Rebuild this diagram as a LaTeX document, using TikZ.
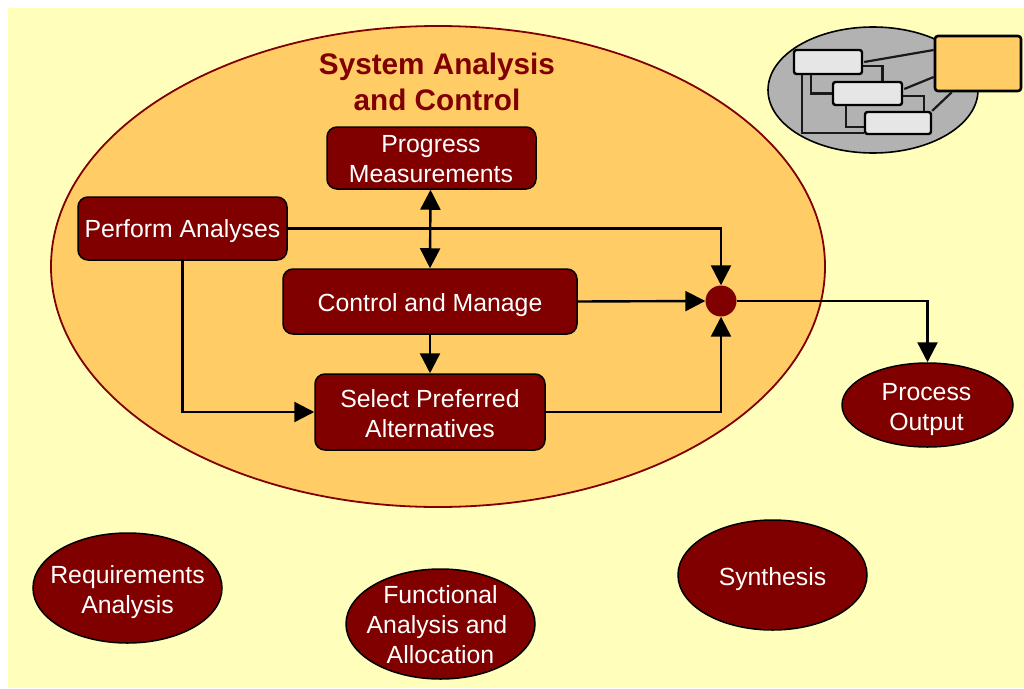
\documentclass[tikz,border=0pt]{standalone}
\usepackage{fontspec}
\setmainfont{Liberation Sans}
\usetikzlibrary{arrows.meta,shapes.geometric,calc}
\definecolor{bgyellow}{HTML}{FFFFBB}
\definecolor{orangefill}{HTML}{FFCC66}
\definecolor{maroon}{HTML}{800000}
\definecolor{greyfill}{HTML}{B2B2B2}
\definecolor{lightfill}{HTML}{E6E6E6}
\tikzset{
  tx/.style={text=white,align=center,inner sep=0pt,font=\fontsize{24.8pt}{30pt}\selectfont,yshift=#1},
  procbox/.style={draw=black,line width=1.5pt,fill=maroon,rounded corners=10pt},
  procell/.style={ellipse,draw=black,line width=1.5pt,fill=maroon,inner sep=0pt},
  flow/.style={draw=black,line width=2.4pt,-{Triangle[width=20pt,length=20pt]}},
  mini/.style={draw=black,line width=2.4pt,fill=lightfill,rounded corners=2.5pt,inner sep=0pt},
  minilink/.style={draw=black!90,line width=2.2pt},
}
\begin{document}
\begin{tikzpicture}[x=1pt,y=-1pt]
\useasboundingbox (0,0) rectangle (1024,688);
\fill[white] (0,0) rectangle (1024,688);
\fill[bgyellow] (8,8) rectangle (1024,688);

% big ellipse and title
\node[ellipse,draw=maroon,line width=1.8pt,fill=orangefill,minimum width=774pt,minimum height=481pt,inner sep=0pt] (sac) at (438,266.5) {};
\node[text=maroon,align=center,font=\fontsize{29.7pt}{36pt}\selectfont\bfseries] (title) at (437,82) {System Analysis\\and Control};

% process boxes
\node[procbox,minimum width=209pt,minimum height=62pt,label={[tx=-1pt,xshift=-0.5pt]center:{Progress\\Measurements}}] (pm) at (431.5,158) {};
\node[procbox,minimum width=209pt,minimum height=63pt,label={[tx=-3pt]center:Perform Analyses}] (pa) at (182.5,228.5) {};
\node[procbox,minimum width=294pt,minimum height=65pt,label={[tx=-4pt]center:Control and Manage}] (cm) at (430,301.5) {};
\node[procbox,minimum width=230pt,minimum height=76pt,label={[tx=-2pt]center:{Select Preferred\\Alternatives}}] (sp) at (430,412) {};

% junction
\node[circle,fill=maroon,draw=none,minimum size=31pt,inner sep=0pt] (dot) at (721,301) {};

% ellipses
\node[procell,minimum width=171pt,minimum height=84pt,label={[tx=-5pt,xshift=-1pt]center:{Process\\Output}}] (po) at (927.5,405) {};
\node[procell,minimum width=189pt,minimum height=110pt,label={[tx=-4pt]center:{Requirements\\Analysis}}] (ra) at (127.5,588) {};
\node[procell,minimum width=189pt,minimum height=110pt,label={[tx=-1pt]center:{Functional\\\mbox{Analysis and\kern7pt}\\Allocation}}] (fa) at (440.5,624) {};
\node[procell,minimum width=189pt,minimum height=110pt,label={[tx=-4pt]center:Synthesis}] (sy) at (772.5,575) {};

% connectors
\draw[flow,{Triangle[width=20pt,length=20pt]}-{Triangle[width=20pt,length=20pt]}] ([xshift=-1pt]pm.south) -- (cm.north);
\draw[flow] (pa.east) -| (dot.north);
\draw[flow] (pa.south) |- (sp.west);
\draw[flow] (cm.east) -- (dot.west);
\draw[flow] (cm.south) -- (sp.north);
\draw[flow] (sp.east) -| (dot.south);
\draw[flow] (dot.east) -| (po.north);

% icon
\node[ellipse,draw=black,line width=1.6pt,fill=greyfill,minimum width=210pt,minimum height=126pt,inner sep=0pt] (icon) at (873,90) {};
\node[draw=black,line width=2.6pt,fill=orangefill,rounded corners=3pt,minimum width=86pt,minimum height=55pt,inner sep=0pt] (big) at (978,63.5) {};
\node[mini,minimum width=68pt,minimum height=24pt] (b1) at (828,62) {};
\node[mini,minimum width=69pt,minimum height=23pt] (b2) at (867.5,93.5) {};
\node[mini,minimum width=66pt,minimum height=22pt] (b3) at (898,123) {};
\draw[minilink] ([xshift=1pt]b1.east) -- ([yshift=13.5pt]big.west);
\draw[minilink] ([yshift=-4pt]b1.east) -| ([xshift=15pt]b2.north);
\draw[minilink] ([xshift=1pt,yshift=4.5pt]b2.east) -- ([yshift=-13.5pt]big.west);
\draw[minilink] ([yshift=-2.5pt]b2.east) -| ([xshift=26pt]b3.north);
\draw[minilink] (b3.north east) -- ([xshift=18pt]big.south west);
\draw[minilink] ([xshift=18pt]b1.south west) |- (b2.west);
\draw[minilink] ([xshift=14pt]b2.south west) |- ([yshift=-4pt]b3.west);
\draw[minilink] ([xshift=9pt]b1.south west) |- ([yshift=-10pt]b3.west);
\end{tikzpicture}
\end{document}
